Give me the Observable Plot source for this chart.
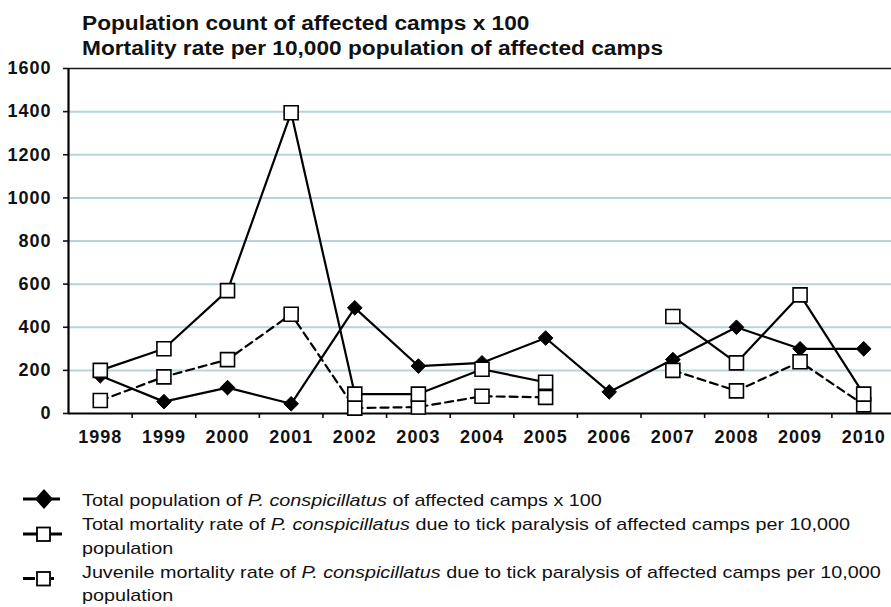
<!DOCTYPE html>
<html>
<head>
<meta charset="utf-8">
<script src="https://cdn.jsdelivr.net/npm/d3@7"></script>
<script src="https://cdn.jsdelivr.net/npm/@observablehq/plot@0.6"></script>
<style>
  html, body { margin: 0; padding: 0; background: #fff; }
  body { position: relative; width: 891px; height: 607px; overflow: hidden; font-family: "Liberation Sans", Arial, sans-serif; color: #111; }
  #chart { position: absolute; left: 0; top: 0; }
  #title { position: absolute; left: 82px; top: 10.6px; font-size: 20px; line-height: 25px; font-weight: bold; white-space: nowrap; transform: scaleX(1.134); transform-origin: left top; }
  #legendText { position: absolute; left: 82px; top: 489.3px; font-size: 17px; line-height: 23.75px; white-space: nowrap; transform: scaleX(1.162); transform-origin: left top; }
  #legendSwatch { position: absolute; left: 0; top: 470px; }
</style>
</head>
<body>
<div id="chart"></div>
<div id="title">Population count of affected camps x 100<br>Mortality rate per 10,000 population of affected camps</div>
<svg id="legendSwatch" width="80" height="137" viewBox="0 470 80 137">
  <line x1="23" x2="60" y1="499" y2="499" stroke="#000" stroke-width="3"/>
  <path d="M44,489 L53,499 L44,509 L35,499 Z" fill="#000"/>
  <line x1="23" x2="62" y1="534" y2="534" stroke="#000" stroke-width="3"/>
  <rect x="37" y="527.5" width="13" height="13.5" fill="#fff" stroke="#000" stroke-width="1.8"/>
  <line x1="23" x2="35" y1="578.5" y2="578.5" stroke="#000" stroke-width="3"/>
  <line x1="51" x2="54" y1="578.5" y2="578.5" stroke="#000" stroke-width="3"/>
  <rect x="37" y="572" width="13" height="13.5" fill="#fff" stroke="#000" stroke-width="1.8"/>
</svg>
<div id="legendText">Total population of <i>P. conspicillatus</i> of affected camps x 100<br>Total mortality rate of <i>P. conspicillatus</i> due to tick paralysis of affected camps per 10,000<br>population<br>Juvenile mortality rate of <i>P. conspicillatus</i> due to tick paralysis of affected camps per 10,000<br>population</div>
<script>
const years = [1998, 1999, 2000, 2001, 2002, 2003, 2004, 2005, 2006, 2007, 2008, 2009, 2010];
const totalPopulation = [175, 55, 120, 45, 490, 220, 235, 350, 100, 250, 400, 300, 300];
const totalMortality = [200, 300, 570, 1395, 90, 90, 205, 145, null, 450, 235, 550, 90];
const juvenileMortality = [60, 170, 250, 460, 25, 30, 80, 75, null, 200, 105, 240, 40];
const yTicks = [0, 200, 400, 600, 800, 1000, 1200, 1400, 1600];
const gridValues = [200, 400, 600, 800, 1000, 1200, 1400];
const bandEdges = [1998.5, 1999.5, 2000.5, 2001.5, 2002.5, 2003.5, 2004.5, 2005.5, 2006.5, 2007.5, 2008.5, 2009.5, 2010.5];

const rows = (vals) => years.map((year, i) => ({year, value: vals[i]}));
const popRows = rows(totalPopulation);
const totRows = rows(totalMortality);
const juvRows = rows(juvenileMortality);

const fontFamily = '"Liberation Sans", Arial, sans-serif';

const chart = Plot.plot({
  width: 891,
  height: 460,
  marginTop: 68,
  marginBottom: 47,
  marginLeft: 68,
  marginRight: 0,
  x: {domain: [1997.5, 2010.5], range: [68, 895]},
  y: {domain: [0, 1600]},
  style: {fontFamily, fontSize: "18px", fontWeight: "bold", color: "#111", background: "transparent", letterSpacing: "1px"},
  marks: [
    Plot.ruleY(gridValues, {stroke: "#b5d5db", strokeWidth: 2}),
    Plot.ruleY([1600], {stroke: "#1a1a1a", strokeWidth: 1.6}),
    Plot.axisY({ticks: yTicks, tickSize: 5, tickPadding: 12, tickFormat: d => String(d), label: null, strokeWidth: 1.6}),
    Plot.axisX({ticks: years, tickSize: 0, tickPadding: 17, tickFormat: d => String(d), label: null}),
    Plot.axisX({ticks: bandEdges, tickSize: 5, tickFormat: () => "", label: null, strokeWidth: 1.6}),
    Plot.ruleY([0], {stroke: "#000", strokeWidth: 2.2}),
    Plot.ruleX([1997.5], {stroke: "#000", strokeWidth: 2.2}),
    Plot.line(popRows, {x: "year", y: "value", stroke: "#000", strokeWidth: 2.2}),
    Plot.line(totRows, {x: "year", y: "value", stroke: "#000", strokeWidth: 2.2}),
    Plot.line(juvRows, {x: "year", y: "value", stroke: "#000", strokeWidth: 2.2, strokeDasharray: "8,5"}),
    Plot.dot(popRows, {x: "year", y: "value", symbol: "diamond2", r: 6.6, fill: "#000", stroke: "#000", strokeWidth: 1}),
    Plot.dot(juvRows, {x: "year", y: "value", symbol: "square", r: 7.9, fill: "#fff", stroke: "#000", strokeWidth: 1.6}),
    Plot.dot(totRows, {x: "year", y: "value", symbol: "square", r: 7.9, fill: "#fff", stroke: "#000", strokeWidth: 1.6})
  ]
});
document.getElementById("chart").appendChild(chart);
</script>
</body>
</html>
